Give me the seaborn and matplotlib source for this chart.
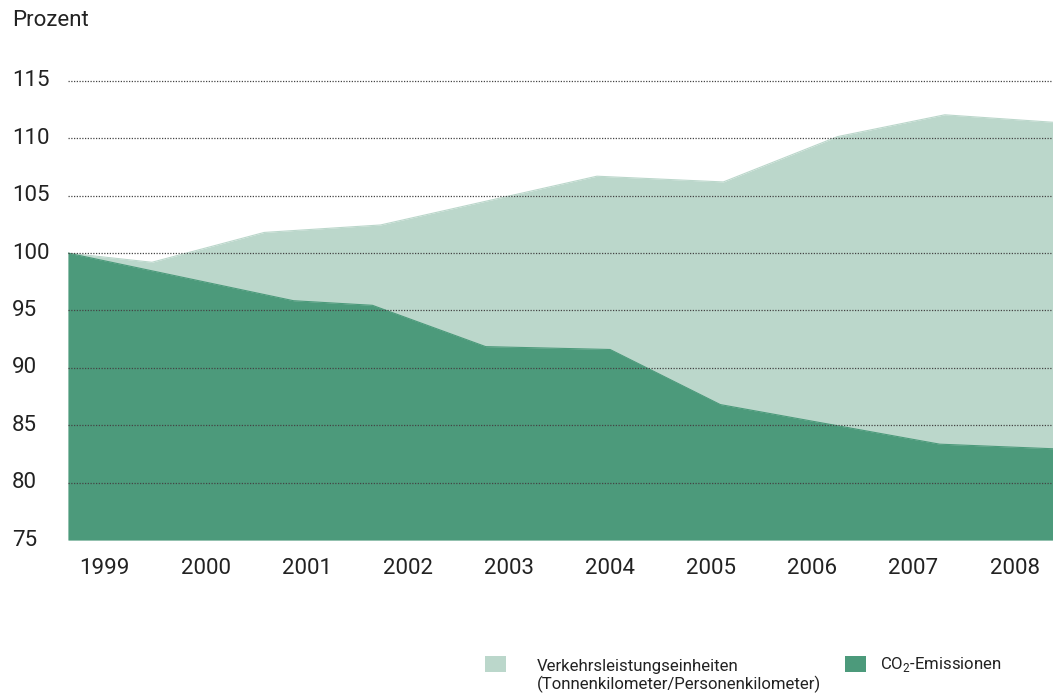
import matplotlib
matplotlib.use("Agg")
import matplotlib.pyplot as plt
import seaborn as sns
import pandas as pd
from matplotlib.patches import Rectangle

# Data (fractional year positions)
light_x = [1998.64, 1999.47, 2000.58, 2001.73, 2003.87, 2005.12, 2006.25, 2007.31, 2008.38]
light_y = [100.0, 99.2, 101.8, 102.45, 106.7, 106.2, 110.15, 112.05, 111.4]
dark_x = [1998.64, 2000.87, 2001.65, 2002.77, 2004.0, 2005.09, 2007.26, 2008.38]
dark_y = [100.0, 95.85, 95.45, 91.85, 91.6, 86.8, 83.35, 82.95]
years = [1999, 2000, 2001, 2002, 2003, 2004, 2005, 2006, 2007, 2008]
yticks = [75, 80, 85, 90, 95, 100, 105, 110, 115]
label_light = "Verkehrsleistungseinheiten\n(Tonnenkilometer/Personenkilometer)"
label_dark = "CO$_2$-Emissionen"

LIGHT = "#BBD7CB"
DARK = "#4C9A7B"
TXT = "#222222"

sns.set_theme(style="white")
plt.rcParams["font.family"] = ["Roboto", "DejaVu Sans"]
plt.rcParams["mathtext.fontset"] = "custom"
plt.rcParams["mathtext.rm"] = "Roboto"

W, H = 1053, 700
fig = plt.figure(figsize=(W / 100, H / 100), dpi=100)
ax_left, ax_right, ax_bottom, ax_top = 68, 1053, 540, 58
ax = fig.add_axes([ax_left / W, 1 - ax_bottom / H, (ax_right - ax_left) / W, (ax_bottom - ax_top) / H])

df_l = pd.DataFrame({"x": light_x, "y": light_y})
df_d = pd.DataFrame({"x": dark_x, "y": dark_y})

ax.fill_between(df_l["x"], 75, df_l["y"], color=LIGHT, lw=0, zorder=1)
sns.lineplot(data=df_l, x="x", y="y", ax=ax, color=LIGHT, lw=0.8, zorder=1.1)
ax.fill_between(df_d["x"], 75, df_d["y"], color=DARK, lw=0, zorder=2)
sns.lineplot(data=df_d, x="x", y="y", ax=ax, color=DARK, lw=0.8, zorder=2.1)

ax.set_xlim(1998.64, 2008.38)
ax.set_ylim(75, 117)

for v in yticks[1:]:
    ax.axhline(v, color="#444444", lw=0.9, ls=(0, (1, 1.2)), zorder=5)

ax.set_xticks(years)
ax.set_xticklabels([str(y) for y in years], fontsize=16, color=TXT)
ax.tick_params(axis="x", length=0, pad=13)
ax.set_yticks([])
for v in yticks:
    ax.text((12 - ax_left) / (ax_right - ax_left), v, str(v), transform=ax.get_yaxis_transform(),
            ha="left", va="center", fontsize=16, color=TXT)

for s in ax.spines.values():
    s.set_visible(False)
ax.set_xlabel("")
ax.set_ylabel("")

fig.text(12 / W, 1 - 21 / H, "Prozent", ha="left", va="center", fontsize=16, color=TXT)

# Legend
fig.add_artist(Rectangle((485 / W, 1 - 672 / H), 21 / W, 16 / H, transform=fig.transFigure,
                         facecolor=LIGHT, edgecolor="none"))
fig.text(537 / W, 1 - 676 / H, label_light, ha="left", va="center", fontsize=12.1,
         color=TXT, linespacing=1.2)
fig.add_artist(Rectangle((845 / W, 1 - 672 / H), 21 / W, 16 / H, transform=fig.transFigure,
                         facecolor=DARK, edgecolor="none"))
fig.text(880 / W, 1 - 665 / H, label_dark, ha="left", va="center", fontsize=12.1, color=TXT)

fig.savefig("out.png", dpi=100)
